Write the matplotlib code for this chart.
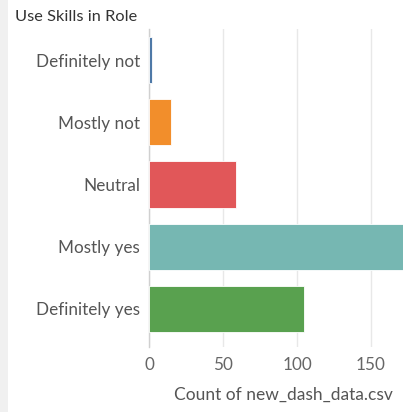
import matplotlib
matplotlib.use("Agg")
import matplotlib.pyplot as plt
from matplotlib.patches import Rectangle

categories = ["Definitely not", "Mostly not", "Neutral", "Mostly yes", "Definitely yes"]
counts = [2, 15, 59, 200, 105]
colors = ["#4e79a7", "#f28e2b", "#e15759", "#76b7b2", "#59a14f"]
xticks = [0, 50, 100, 150]

plt.rcParams['font.family'] = ['Lato', 'DejaVu Sans']

W, H = 403, 412
fig = plt.figure(figsize=(W / 100, H / 100), dpi=100)
fig.patch.set_facecolor("white")

# light gray strip on the far left
fig.patches.append(Rectangle((0, 0), 8 / W, 1, transform=fig.transFigure,
                             facecolor="#f0f0f0", edgecolor="none", zorder=0))

left, right = 149 / W, 1.0
top_px, bot_px = 29, 347
ax = fig.add_axes([left, 1 - bot_px / H, right - left, (bot_px - top_px) / H])

ypos = list(range(len(categories)))
ax.barh(ypos, counts, height=0.74, color=colors, edgecolor="white", linewidth=0.6, zorder=3)

ax.set_xlim(0, (W - 149) / 1.48)
ax.set_ylim((bot_px - 60) / 62.25, (top_px - 60) / 62.25)

ax.set_yticks(ypos)
ax.set_yticklabels(categories, fontsize=12.3, color="#555555")
ax.set_xticks(xticks)
ax.set_xticklabels([str(v) for v in xticks], fontsize=12.3, color="#666666")
ax.tick_params(axis="y", length=0, pad=6.5)
ax.tick_params(axis="x", length=0, pad=7)

for s in ["top", "right", "bottom"]:
    ax.spines[s].set_visible(False)
ax.spines["left"].set_color("#d0d0d0")
ax.spines["left"].set_linewidth(1)
ax.xaxis.grid(True, color="#e8e8e8", linewidth=1, zorder=0)
ax.set_axisbelow(True)

fig.text(15 / W, 1 - 17 / H, "Use Skills in Role", fontsize=11.8, color="#333333",
         ha="left", va="center")
fig.text(283 / W, 1 - 395 / H, "Count of new_dash_data.csv", fontsize=12.5,
         color="#555555", ha="center", va="center")

fig.savefig("out.png", dpi=100)
